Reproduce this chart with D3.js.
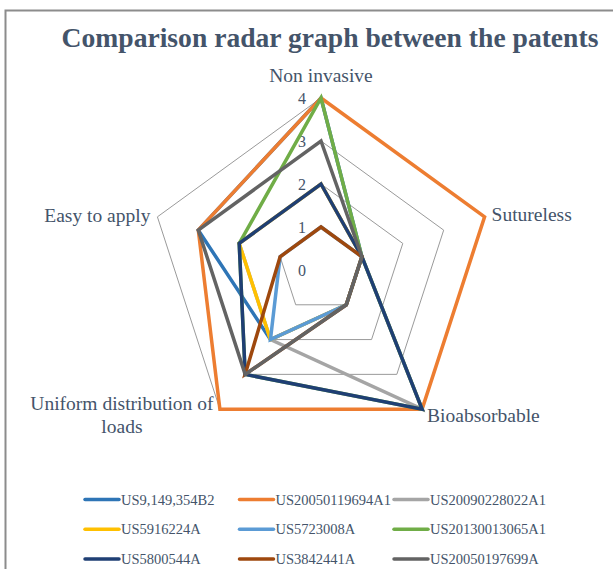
<!DOCTYPE html>
<html lang="en">
	<head>
		<meta charset="utf-8">
		<title>Comparison radar graph</title>
		<script type="text/javascript" src="https://cdn.jsdelivr.net/npm/d3@7"></script>
		<style type="text/css">
			body { margin: 0; background: #fff; }
			text { font-family: "Liberation Serif", serif; fill: #44546A; }
		</style>
	</head>
	<body>
		<script type="text/javascript">

			var w = 613;
			var h = 569;

			// axes, clockwise from the top
			var axes = ["Non invasive", "Sutureless", "Bioabsorbable", "Uniform distribution of loads", "Easy to apply"];
			var levels = [0, 1, 2, 3, 4];

			var patents = ["US9,149,354B2", "US20050119694A1", "US20090228022A1",
			               "US5916224A", "US5723008A", "US20130013065A1",
			               "US5800544A", "US3842441A", "US20050197699A"];

			// scores per patent, in the order of axes
			var s1 = [4, 1, 1, 2, 3];
			var s2 = [4, 4, 4, 4, 3];
			var s3 = [2, 1, 4, 2, 2];
			var s4 = [2, 1, 1, 2, 2];
			var s5 = [1, 1, 1, 2, 1];
			var s6 = [4, 1, 4, 3, 2];
			var s7 = [2, 1, 4, 3, 2];
			var s8 = [1, 1, 1, 3, 1];
			var s9 = [3, 1, 1, 3, 3];
			var scores = [s1, s2, s3, s4, s5, s6, s7, s8, s9];

			var colors = ["#2E75B6", "#ED7D31", "#A5A5A5", "#FFC000", "#5B9BD5",
			              "#70AD47", "#1F3F74", "#9E480E", "#636363"];

			var cx = 321, cy = 270;

			var rScale = d3.scaleLinear().domain([0, 4]).range([0, 172]);
			var aScale = d3.scaleLinear().domain([0, axes.length]).range([-Math.PI / 2, 1.5 * Math.PI]);

			var point = function(i, v) {
				var a = aScale(i);
				return [cx + rScale(v) * Math.cos(a), cy + rScale(v) * Math.sin(a)];
			};

			var svg = d3.select("body")
						.append("svg")
						.attr("width", w)
						.attr("height", h);

			// chart area border (runs off the picture at right and bottom)
			svg.append("rect")
			   .attr("x", 5.5).attr("y", 10.5)
			   .attr("width", 800).attr("height", 800)
			   .attr("fill", "none")
			   .attr("stroke", "#8c8c8c")
			   .attr("stroke-width", 2);

			svg.append("text")
			   .attr("x", 330).attr("y", 47)
			   .attr("text-anchor", "middle")
			   .attr("font-size", "27.6px")
			   .attr("font-weight", "bold")
			   .text("Comparison radar graph between the patents");

			var g = svg.append("g");

			// grid pentagons
			g.selectAll("path.grid")
			 .data(levels.slice(1))
			 .enter()
			 .append("path")
			 .attr("class", "grid")
			 .attr("d", function(l) {
				 return d3.line()(axes.map(function(a, i) { return point(i, l); })) + "Z";
			 })
			 .attr("fill", "none")
			 .attr("stroke", "#9a9a9a")
			 .attr("stroke-width", 1);

			// tick labels
			g.selectAll("text.tick")
			 .data(levels)
			 .enter()
			 .append("text")
			 .attr("class", "tick")
			 .attr("x", cx - 19)
			 .attr("y", function(l) { return point(0, l)[1]; })
			 .attr("dy", "0.35em")
			 .attr("text-anchor", "middle")
			 .attr("font-size", "16px")
			 .text(function(l) { return l; });

			// series
			g.selectAll("path.series")
			 .data(scores)
			 .enter()
			 .append("path")
			 .attr("class", "series")
			 .attr("d", function(d) {
				 return d3.line()(d.map(function(v, i) { return point(i, v); })) + "Z";
			 })
			 .attr("fill", "none")
			 .attr("stroke", function(d, i) { return colors[i]; })
			 .attr("stroke-width", 3.5)
			 .attr("stroke-linejoin", "miter");

			// axis labels
			var labelOffsets = [[0, -16, "middle"], [7, 4, "start"], [5, 13, "start"], [-98, 1, "middle"], [-7, 5, "end"]];

			var labels = g.selectAll("text.axis")
			 .data(axes)
			 .enter()
			 .append("text")
			 .attr("class", "axis")
			 .attr("font-size", "19.5px")
			 .attr("text-anchor", function(d, i) { return labelOffsets[i][2]; })
			 .attr("x", function(d, i) { return point(i, 4)[0] + labelOffsets[i][0]; })
			 .attr("y", function(d, i) { return point(i, 4)[1] + labelOffsets[i][1]; });

			labels.each(function(d, i) {
				var t = d3.select(this);
				if (d === "Uniform distribution of loads") {
					var x = t.attr("x");
					t.append("tspan").attr("x", x).text("Uniform distribution of");
					t.append("tspan").attr("x", x).attr("dy", 23).text("loads");
				} else {
					t.text(d);
				}
			});

			// legend
			var legend = svg.selectAll("g.legend")
			 .data(patents)
			 .enter()
			 .append("g")
			 .attr("class", "legend")
			 .attr("transform", function(d, i) {
				 return "translate(" + (85 + (i % 3) * 154.5) + "," + (499.5 + Math.floor(i / 3) * 29.8) + ")";
			 });

			legend.append("line")
			 .attr("x1", 0).attr("x2", 34)
			 .attr("stroke", function(d, i) { return colors[i]; })
			 .attr("stroke-width", 3.5)
			 .attr("stroke-linecap", "round");

			legend.append("text")
			 .attr("x", 36)
			 .attr("y", 5)
			 .attr("font-size", "14.5px")
			 .text(function(d) { return d; });

		</script>
	</body>
</html>
